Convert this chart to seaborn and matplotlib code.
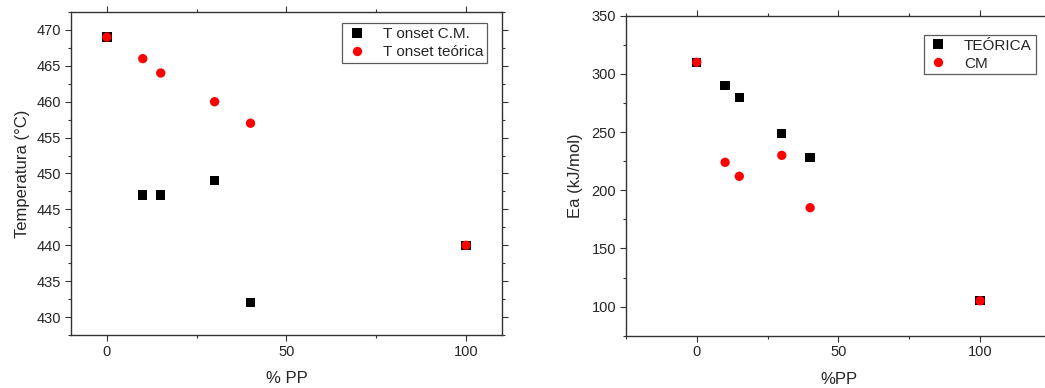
import matplotlib
matplotlib.use("Agg")
import matplotlib.pyplot as plt
from matplotlib.ticker import MultipleLocator
import seaborn as sns
import pandas as pd

sns.set_style("ticks")
plt.rcParams["font.family"] = ["Liberation Sans", "DejaVu Sans"]

# Onset temperature vs PP content
pp = [0, 10, 15, 30, 40, 100]
t_onset_cm = [469, 447, 447, 449, 432, 440]
t_onset_teorica = [469, 466, 464, 460, 457, 440]

# Activation energy vs PP content
ea_teorica = [310, 290, 280, 249, 228, 105]
ea_cm = [310, 224, 212, 230, 185, 105]

fig = plt.figure(figsize=(10.45, 3.88), dpi=100)
ax1 = fig.add_axes([0.0679, 0.1366, 0.4124, 0.8325])
ax2 = fig.add_axes([0.599, 0.1348, 0.4067, 0.8247])

SPINE = "#333333"


def style_axes(ax):
    for s in ax.spines.values():
        s.set_linewidth(1.0)
        s.set_color(SPINE)
    ax.tick_params(which="both", direction="out", top=True, right=True,
                   labelsize=10.5, color=SPINE, width=0.8, pad=3)
    ax.tick_params(which="major", length=4)
    ax.tick_params(which="minor", length=2.5)


def add_legend(ax, anchor):
    leg = ax.legend(loc="upper right", bbox_to_anchor=anchor, fontsize=11,
                    frameon=True, fancybox=False, edgecolor=SPINE,
                    handletextpad=1.0, borderpad=0.25, labelspacing=0.25,
                    handlelength=1.4, borderaxespad=0)
    leg.get_frame().set_linewidth(0.9)
    return leg


df1 = pd.DataFrame({
    "pp": pp * 2,
    "val": t_onset_cm + t_onset_teorica,
    "serie": ["T onset C.M."] * len(pp) + ["T onset teórica"] * len(pp),
})
sns.scatterplot(data=df1, x="pp", y="val", hue="serie", style="serie",
                palette=["black", "red"], markers=["s", "o"], s=45,
                linewidth=0, ax=ax1)
ax1.set_xlim(-10, 110)
ax1.set_ylim(427.5, 472.5)
ax1.xaxis.set_major_locator(MultipleLocator(50))
ax1.xaxis.set_minor_locator(MultipleLocator(25))
ax1.yaxis.set_major_locator(MultipleLocator(5))
ax1.yaxis.set_minor_locator(MultipleLocator(2.5))
ax1.set_xlabel("% PP", fontsize=12, labelpad=9)
ax1.set_ylabel("Temperatura (°C)", fontsize=12, labelpad=5)
style_axes(ax1)
add_legend(ax1, (0.965, 0.965))

df2 = pd.DataFrame({
    "pp": pp * 2,
    "val": ea_teorica + ea_cm,
    "serie": ["TEÓRICA"] * len(pp) + ["CM"] * len(pp),
})
sns.scatterplot(data=df2, x="pp", y="val", hue="serie", style="serie",
                palette=["black", "red"], markers=["s", "o"], s=45,
                linewidth=0, ax=ax2)
ax2.set_xlim(-25, 125)
ax2.set_ylim(75, 350)
ax2.xaxis.set_major_locator(MultipleLocator(50))
ax2.xaxis.set_minor_locator(MultipleLocator(25))
ax2.yaxis.set_major_locator(MultipleLocator(50))
ax2.yaxis.set_minor_locator(MultipleLocator(25))
ax2.set_xlabel("%PP", fontsize=12, labelpad=9)
ax2.set_ylabel("Ea (kJ/mol)", fontsize=12, labelpad=6)
style_axes(ax2)
add_legend(ax2, (0.964, 0.94))

fig.savefig("out.png", dpi=100)
